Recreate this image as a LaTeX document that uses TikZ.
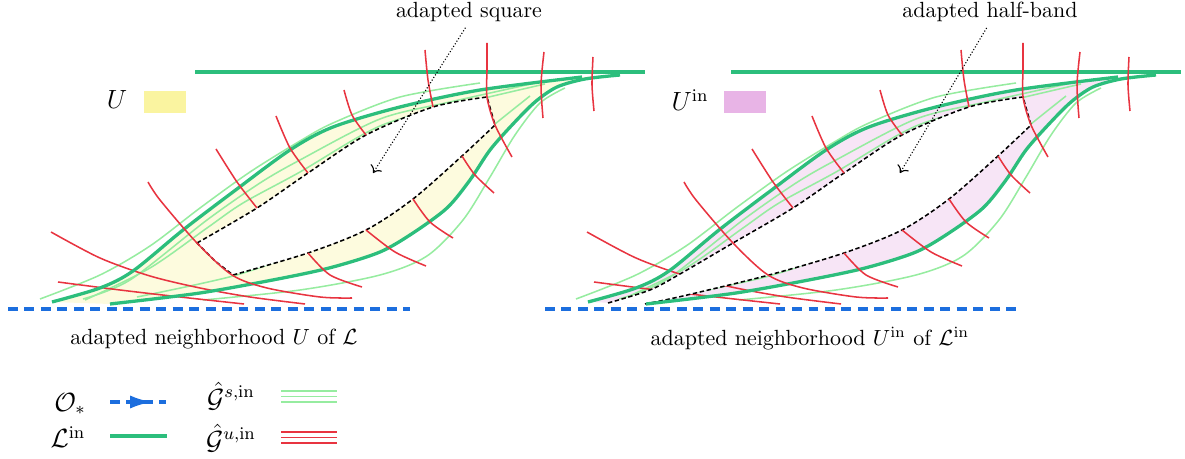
\documentclass[tikz,border=0pt]{standalone}
\usetikzlibrary{arrows.meta,decorations.markings}
\definecolor{linGreen}{RGB}{44,190,124}
\definecolor{gsGreen}{RGB}{150,236,160}
\definecolor{guRed}{RGB}{232,52,64}
\definecolor{orbBlue}{RGB}{28,110,222}
\definecolor{sqYellow}{RGB}{250,244,160}
\definecolor{bandPink}{RGB}{232,180,230}
\begin{document}
\begin{tikzpicture}[
    x=0.016cm, y=-0.016cm,
    adNbLin/.style={draw=linGreen,line width=1.5pt},
    adNbGs/.style={draw=gsGreen,line width=0.7pt},
    adNbGu/.style={draw=guRed,line width=0.7pt},
    adNbOrbit/.style={draw=orbBlue,line width=1.4pt,dash pattern=on 4.5pt off 3pt},
    adNbEdge/.style={draw=black,line width=0.7pt,dash pattern=on 2pt off 1.2pt},
    adNbPointer/.style={draw=black,line width=0.5pt,dash pattern=on 0.5pt off 0.9pt,
                        -{To[length=3pt,width=6pt]}},
    adNbText/.style={inner sep=0pt},
    adNbKey/.style={minimum width=0.672cm,minimum height=0.352cm,inner sep=0pt}]
  \useasboundingbox (0,0) rectangle (1185,459);
  \foreach \dx/\fc in {0/sqYellow,536/bandPink}{
    \begin{scope}[shift={(\dx,0)}]
      \fill[fill=\fc!35] plot[smooth] coordinates {(52,302) (100,288) (133,271) (183,230) (233,192) (290,150) (333,127) (400,107) (480,90) (582,77)}
        -- plot[smooth] coordinates {(620,75) (585,79) (557,87) (535,102) (513,124) (490,150) (470,180) (447,208) (413,233) (380,252) (333,267) (283,278) (200,293) (110,304)} -- cycle;
      % stable leaves
      \draw[adNbGs] plot[smooth] coordinates {(40,299) (100,275) (150,246) (200,208) (250,172) (300,141) (333,123) (400,97) (480,83)};
      \draw[adNbGs] plot[smooth] coordinates {(83,299) (130,280) (207,220) (260,183) (300,160) (380,119) (450,102) (540,82)};
      \draw[adNbGs] plot[smooth] coordinates {(85,300) (150,268) (207,228) (243,203) (300,172) (380,126) (460,104) (545,84)};
      \draw[adNbGs] plot[smooth] coordinates {(137,297) (233,276) (308,250) (366,226) (413,195) (462,152) (495,124) (530,96)};
      \draw[adNbGs] plot[smooth] coordinates {(203,300) (300,290) (380,275) (427,256) (463,220) (490,177) (515,135) (540,103) (565,88)};
      \draw[adNbGu] plot[smooth] coordinates {(51,232) (100,258) (150,276) (200,288) (250,297) (305,304)};
      \draw[adNbGu] plot[smooth] coordinates {(58,282) (120,290) (180,297) (244,304)};
      \ifnum\dx=0
        \fill[white] plot[smooth] coordinates {(197,243) (257,208) (308,173) (366,135) (433,107) (487,97)} -- (495,125)
          -- plot[smooth] coordinates {(495,125) (462,156) (413,199) (366,230) (308,253) (233,275)} -- (215,261) -- cycle;
        \draw[adNbEdge] plot[smooth] coordinates {(197,243) (257,208) (308,173) (366,135) (433,107) (487,97)} -- (495,125)
          -- plot[smooth] coordinates {(495,125) (462,156) (413,199) (366,230) (308,253) (233,275)} -- (215,261) -- cycle;
      \else
        \fill[white] plot[smooth] coordinates {(72,303) (114,290) (144,274) (197,243) (257,208) (308,173) (366,135) (433,107) (487,97)} -- (495,125)
          -- plot[smooth] coordinates {(495,125) (462,156) (413,199) (366,230) (308,253) (233,275) (147,296) (109,304)} -- cycle;
        \draw[adNbEdge] plot[smooth] coordinates {(72,303) (114,290) (144,274) (197,243) (257,208) (308,173) (366,135) (433,107) (487,97)} -- (495,125)
          -- plot[smooth] coordinates {(495,125) (462,156) (413,199) (366,230) (308,253) (233,275) (147,296) (109,304)};
      \fi
      % leaves of L^in
      \draw[adNbLin] (195,72) -- (645,72);
      \draw[adNbLin] plot[smooth] coordinates {(52,302) (100,288) (133,271) (183,230) (233,192) (290,150) (333,127) (400,107) (480,90) (582,77)};
      \draw[adNbLin] plot[smooth] coordinates {(110,304) (200,293) (283,278) (333,267) (380,252) (413,233) (447,208) (470,180) (490,150) (513,124) (535,102) (557,87) (585,79) (620,75)};
      % unstable leaves
      \draw[adNbGu] plot[smooth] coordinates {(148,182) (160,200) (197,243) (232,275) (267,288) (320,297) (352,298)};
      \draw[adNbGu] plot[smooth] coordinates {(216,149) (237,182) (257,208)};
      \draw[adNbGu] plot[smooth] coordinates {(276,116) (290,148) (308,173)};
      \draw[adNbGu] plot[smooth] coordinates {(344,90) (352,115) (366,135)};
      \draw[adNbGu] plot[smooth] coordinates {(425,50) (428,80) (433,107)};
      \draw[adNbGu] plot[smooth] coordinates {(487,43) (487,70) (487,97) (495,125) (512,157)};
      \draw[adNbGu] plot[smooth] coordinates {(544,52) (541,85) (543,118)};
      \draw[adNbGu] plot[smooth] coordinates {(593,57) (592,85) (594,111)};
      \draw[adNbGu] plot[smooth] coordinates {(462,156) (475,175) (494,193)};
      \draw[adNbGu] plot[smooth] coordinates {(413,199) (430,222) (453,238)};
      \draw[adNbGu] plot[smooth] coordinates {(366,230) (395,252) (426,266)};
      \draw[adNbGu] plot[smooth] coordinates {(308,253) (330,275) (362,287)};
    \end{scope}
  }
  \draw[adNbOrbit] (8,309) -- (410,309);
  \draw[adNbOrbit] (545,309) -- (1022,309);
  % labels
  \node[adNbText] (uLbl) at (117,100) {\large $U$};
  \node[adNbKey,fill=sqYellow] (uKey) at (165,102) {};
  \node[adNbText] (uinLbl) at (690,100) {\large $U^{\mathrm{in}}$};
  \node[adNbKey,fill=bandPink] (uinKey) at (745,102) {};
  \node[adNbText] (capU) at (214,339) {adapted neighborhood $U$ of $\mathcal{L}$};
  \node[adNbText] (capUin) at (810,339) {adapted neighborhood $U^{\mathrm{in}}$ of $\mathcal{L}^{\mathrm{in}}$};
  \node[adNbText] (sqLbl) at (469,12) {adapted square};
  \node[adNbText] (bandLbl) at (990,12) {adapted half-band};
  \coordinate (sqTip) at (373,173);
  \coordinate (bandTip) at (900,173);
  \draw[adNbPointer,shorten <=3pt] (sqLbl.south) -- (sqTip);
  \draw[adNbPointer,shorten <=3pt] (bandLbl.south) -- (bandTip);
  % legend
  \node[adNbText] (orbLbl) at (70,404) {\large $\mathcal{O}_*$};
  \coordinate (orbA) at (110,402);
  \coordinate (orbB) at (166,402);
  \draw[adNbOrbit,postaction={decorate},
        decoration={markings,mark=at position 0.75 with {\arrow{Latex[length=10pt,width=6pt]}}}] (orbA) -- (orbB);
  \node[adNbText] (linLbl) at (68,437) {\large $\mathcal{L}^{\mathrm{in}}$};
  \coordinate (linA) at (110,436);
  \coordinate (linB) at (167,436);
  \draw[adNbLin] (linA) -- (linB);
  \node[adNbText] (gsLbl) at (231,396) {\large $\hat{\mathcal{G}}^{s,\mathrm{in}}$};
  \node[adNbText] (guLbl) at (231,438) {\large $\hat{\mathcal{G}}^{u,\mathrm{in}}$};
  \foreach \yy in {391,396.5,402}
    \draw[adNbGs] (281,\yy) -- (337,\yy);
  \foreach \yy in {432,437.5,443}
    \draw[adNbGu] (281,\yy) -- (337,\yy);
\end{tikzpicture}
\end{document}
